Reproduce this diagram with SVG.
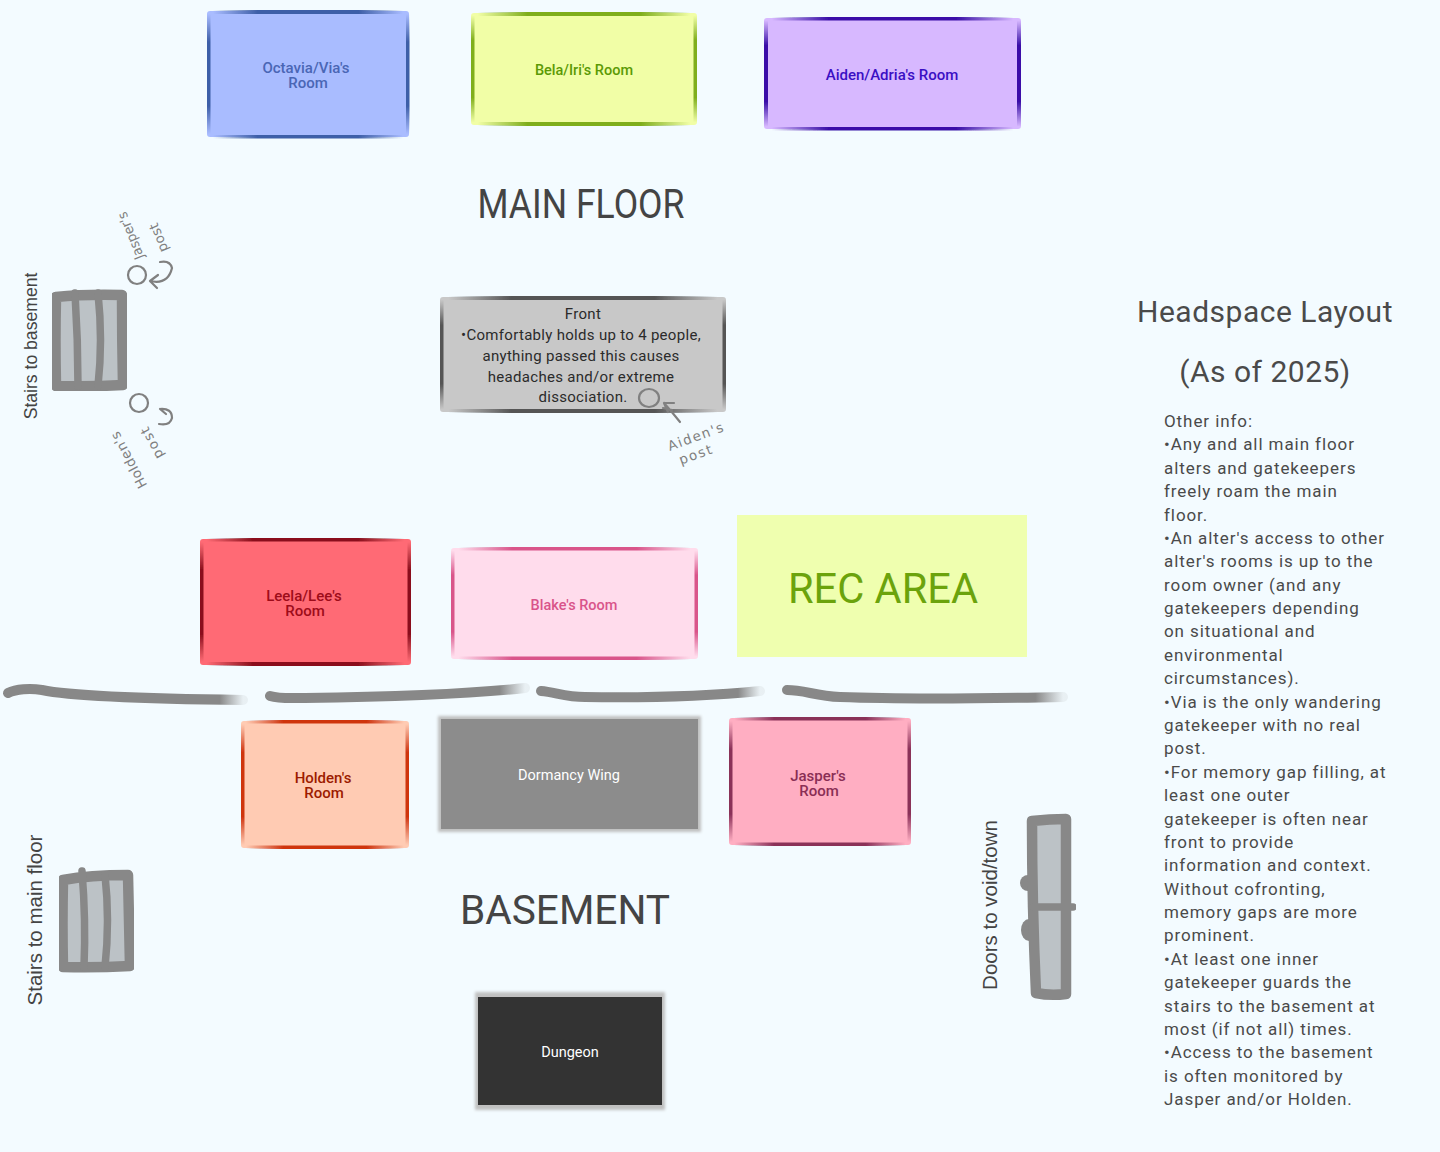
<svg xmlns="http://www.w3.org/2000/svg" width="1440" height="1152" viewBox="0 0 1440 1152">
<style>
text{font-family:"Roboto","Liberation Sans",sans-serif;text-anchor:middle}
.room{font-size:15px;font-weight:500}
.tight{font-size:14.500px}
.plain{font-size:14.5px;fill:#fff}
.front{font-size:15px;fill:#2b2b2b;letter-spacing:.3px}
.head{font-size:41px;fill:#444}
.title{font-size:30px;fill:#4a4a4a;letter-spacing:.5px}
.info{font-size:17px;fill:#4a4a4a;text-anchor:start;letter-spacing:.92px}
.side{font-family:"Liberation Sans",sans-serif;font-size:17.600px;fill:#444}
.long{font-size:20.500px}
.hand{font-family:"DejaVu Sans",sans-serif;font-size:13.500px;fill:#808080}
.ink{fill:none;stroke:#808080;stroke-width:2.200;stroke-linecap:round;stroke-linejoin:round}
.frame{fill:#bcc2c6;stroke:#888;stroke-width:10.500;stroke-linejoin:round}
.bar{fill:none;stroke:#888;stroke-width:7.500;stroke-linecap:round}
.knob{fill:#888}
.sep{fill:none;stroke:url(#fadeEnd);stroke-width:10;stroke-linecap:round}
</style>
<defs>
<linearGradient id="hBlue"><stop offset=".03" stop-color="#3e5fa8" stop-opacity="0"/><stop offset=".25" stop-color="#3e5fa8"/><stop offset=".75" stop-color="#3e5fa8"/><stop offset=".97" stop-color="#3e5fa8" stop-opacity="0"/></linearGradient>
<linearGradient id="vBlue" href="#hBlue" x2="0" y2="1"/>
<linearGradient id="hGreen"><stop offset=".03" stop-color="#7fae1c" stop-opacity="0"/><stop offset=".25" stop-color="#7fae1c"/><stop offset=".75" stop-color="#7fae1c"/><stop offset=".97" stop-color="#7fae1c" stop-opacity="0"/></linearGradient>
<linearGradient id="vGreen" href="#hGreen" x2="0" y2="1"/>
<linearGradient id="hPurple"><stop offset=".03" stop-color="#3a10a8" stop-opacity="0"/><stop offset=".25" stop-color="#3a10a8"/><stop offset=".75" stop-color="#3a10a8"/><stop offset=".97" stop-color="#3a10a8" stop-opacity="0"/></linearGradient>
<linearGradient id="vPurple" href="#hPurple" x2="0" y2="1"/>
<linearGradient id="hGrey"><stop offset=".03" stop-color="#555" stop-opacity="0"/><stop offset=".25" stop-color="#555"/><stop offset=".75" stop-color="#555"/><stop offset=".97" stop-color="#555" stop-opacity="0"/></linearGradient>
<linearGradient id="vGrey" href="#hGrey" x2="0" y2="1"/>
<linearGradient id="hRed"><stop offset=".03" stop-color="#8a0f1c" stop-opacity="0"/><stop offset=".25" stop-color="#8a0f1c"/><stop offset=".75" stop-color="#8a0f1c"/><stop offset=".97" stop-color="#8a0f1c" stop-opacity="0"/></linearGradient>
<linearGradient id="vRed" href="#hRed" x2="0" y2="1"/>
<linearGradient id="hPink"><stop offset=".03" stop-color="#d9548a" stop-opacity="0"/><stop offset=".25" stop-color="#d9548a"/><stop offset=".75" stop-color="#d9548a"/><stop offset=".97" stop-color="#d9548a" stop-opacity="0"/></linearGradient>
<linearGradient id="vPink" href="#hPink" x2="0" y2="1"/>
<linearGradient id="hOrange"><stop offset=".03" stop-color="#cf3510" stop-opacity="0"/><stop offset=".25" stop-color="#cf3510"/><stop offset=".75" stop-color="#cf3510"/><stop offset=".97" stop-color="#cf3510" stop-opacity="0"/></linearGradient>
<linearGradient id="vOrange" href="#hOrange" x2="0" y2="1"/>
<linearGradient id="hPlum"><stop offset=".03" stop-color="#8a3058" stop-opacity="0"/><stop offset=".25" stop-color="#8a3058"/><stop offset=".75" stop-color="#8a3058"/><stop offset=".97" stop-color="#8a3058" stop-opacity="0"/></linearGradient>
<linearGradient id="vPlum" href="#hPlum" x2="0" y2="1"/>
<linearGradient id="fadeEnd"><stop offset="0" stop-color="#888"/><stop offset=".9" stop-color="#888"/><stop offset="1" stop-color="#888" stop-opacity=".1"/></linearGradient>
<filter id="soft" x="-5%" y="-5%" width="110%" height="110%"><feGaussianBlur stdDeviation=".6"/></filter>
<filter id="glow" x="-5%" y="-8%" width="110%" height="116%"><feGaussianBlur stdDeviation="1.500"/></filter>
</defs>
<rect width="1440" height="1152" fill="#f3fbff"/>

<g id="octavia-room"><g filter="url(#soft)"><rect x="207" y="11" width="202" height="126" rx="3" fill="#a9bcff"/><rect fill="url(#hBlue)" x="207" y="10" width="202" height="4"/><rect fill="url(#hBlue)" x="207" y="135" width="202" height="3.500"/><rect fill="url(#vBlue)" x="207" y="10" width="3.500" height="128"/><rect fill="url(#vBlue)" x="406" y="10" width="3.500" height="128"/></g><text class="room" fill="#4a66b5"><tspan x="306" y="73">Octavia/Via's</tspan><tspan x="308" y="88">Room</tspan></text></g>
<g id="bela-room"><g filter="url(#soft)"><rect x="471" y="13" width="226" height="112" rx="3" fill="#f1fea6"/><rect fill="url(#hGreen)" x="471" y="12" width="226" height="4"/><rect fill="url(#hGreen)" x="471" y="122" width="226" height="4"/><rect fill="url(#vGreen)" x="471" y="12" width="3.500" height="114"/><rect fill="url(#vGreen)" x="693.500" y="12" width="3.500" height="114"/></g><text class="room tight" fill="#5b9a05" x="584" y="75">Bela/Iri's Room</text></g>
<g id="aiden-room"><g filter="url(#soft)"><rect x="764" y="18" width="257" height="111" rx="3" fill="#d7b8ff"/><rect fill="url(#hPurple)" x="764" y="17" width="257" height="3.500"/><rect fill="url(#hPurple)" x="764" y="127" width="257" height="3.500"/><rect fill="url(#vPurple)" x="764" y="17" width="4" height="113"/><rect fill="url(#vPurple)" x="1017" y="17" width="4" height="113"/></g><text class="room" fill="#3a0fc4" x="892" y="80">Aiden/Adria's Room</text></g>

<text id="main-floor-title" class="head" x="581" y="218" textLength="207" lengthAdjust="spacingAndGlyphs">MAIN FLOOR</text>

<g id="front"><g filter="url(#soft)"><rect x="440" y="297" width="286" height="115" rx="3" fill="#c8c8c8"/><rect fill="url(#hGrey)" x="440" y="296" width="286" height="4"/><rect fill="url(#hGrey)" x="440" y="409" width="286" height="4"/><rect fill="url(#vGrey)" x="440" y="296" width="3.500" height="117"/><rect fill="url(#vGrey)" x="722.500" y="296" width="3.500" height="117"/></g><text class="front"><tspan x="583" y="319">Front</tspan><tspan x="581" y="340">•Comfortably holds up to 4 people,</tspan><tspan x="581" y="361">anything passed this causes</tspan><tspan x="581" y="382">headaches and/or extreme</tspan><tspan x="583" y="402">dissociation.</tspan></text></g>

<g id="aiden-post"><ellipse class="ink" cx="649" cy="398" rx="10" ry="9"/><path class="ink" d="M680 422Q672 412 664 403M664 403L674 403M664 403L668 412M672 410L663 408"/><text class="hand" transform="translate(697 441) rotate(-20)" textLength="58">Aiden's</text><text class="hand" transform="translate(697 459) rotate(-20)" textLength="34">post</text></g>

<g id="stairs-to-basement"><g filter="url(#soft)"><path class="frame" d="M56 297Q85 294 122 295Q122 340 123 385Q90 387 56 386Q55 340 56 297Z"/><path class="bar" d="M75 293Q78 340 78 386M98 293Q103 340 98 386"/></g><text class="side" transform="translate(37 346) rotate(-90)">Stairs to basement</text></g>
<g id="jasper-post"><circle class="ink" cx="137" cy="275" r="9"/><path class="ink" d="M150 281Q168 285 172 268Q170 260 160 262M150 281L158 275M150 281L157 288"/><text class="hand" transform="translate(135 234) rotate(-112)" textLength="50" lengthAdjust="spacingAndGlyphs">Jasper's</text><text class="hand" transform="translate(163 236) rotate(-112)" textLength="30">post</text></g>
<g id="holden-post"><circle class="ink" cx="139" cy="403" r="9"/><path class="ink" d="M160 409Q172 408 172 418Q170 426 159 424M160 409L166 414"/><text class="hand" transform="translate(133 458) rotate(-118)" textLength="62">Holden's</text><text class="hand" transform="translate(156 441) rotate(-118)" textLength="34">post</text></g>

<g id="leela-room"><g filter="url(#soft)"><rect x="200" y="539" width="211" height="126" rx="3" fill="#ff6b75"/><rect fill="url(#hRed)" x="200" y="538" width="211" height="3.500"/><rect fill="url(#hRed)" x="200" y="662" width="211" height="4"/><rect fill="url(#vRed)" x="200" y="538" width="3.500" height="128"/><rect fill="url(#vRed)" x="407.500" y="538" width="3.500" height="128"/></g><text class="room" fill="#9d0c1a"><tspan x="304" y="601">Leela/Lee's</tspan><tspan x="305" y="616">Room</tspan></text></g>
<g id="blake-room"><g filter="url(#soft)"><rect x="451" y="548" width="247" height="111" rx="3" fill="#ffdcec"/><rect fill="url(#hPink)" x="451" y="547" width="247" height="3.500"/><rect fill="url(#hPink)" x="451" y="656.500" width="247" height="3.500"/><rect fill="url(#vPink)" x="451" y="547" width="3.500" height="113"/><rect fill="url(#vPink)" x="694.500" y="547" width="3.500" height="113"/></g><text class="room tight" fill="#d9548a" x="574" y="610">Blake's Room</text></g>
<g id="rec-area"><rect x="737" y="515" width="290" height="142" fill="#efffaf"/><text x="883" y="603" font-size="42" fill="#6ba30c" textLength="190" lengthAdjust="spacingAndGlyphs">REC AREA</text></g>

<g id="dividers"><path class="sep" d="M8 693C16 689 30 688 42 690C70 696 160 699 243 700"/><path class="sep" d="M270 696C280 699 290 698 305 698C380 697 460 695 525 688"/><path class="sep" d="M541 691C555 692 565 697 585 697C650 698 710 696 760 691"/><path class="sep" d="M787 690C805 690 815 696 840 697C920 700 1000 698 1063 697"/></g>

<g id="holden-room"><g filter="url(#soft)"><rect x="241" y="721" width="168" height="127" rx="3" fill="#ffcbb3"/><rect fill="url(#hOrange)" x="241" y="720" width="168" height="3.500"/><rect fill="url(#hOrange)" x="241" y="845.500" width="168" height="3.500"/><rect fill="url(#vOrange)" x="241" y="720" width="3.500" height="129"/><rect fill="url(#vOrange)" x="405.500" y="720" width="3.500" height="129"/></g><text class="room" fill="#9c1b00"><tspan x="323" y="783">Holden's</tspan><tspan x="324" y="798">Room</tspan></text></g>
<g id="dormancy-wing"><rect x="438" y="716" width="263" height="116" fill="#c0c0c0" filter="url(#glow)"/><rect x="441" y="719" width="257" height="110" fill="#8c8c8c"/><text class="plain" x="569" y="780">Dormancy Wing</text></g>
<g id="jasper-room"><g filter="url(#soft)"><rect x="729" y="718" width="182" height="127" rx="3" fill="#ffaec2"/><rect fill="url(#hPlum)" x="729" y="717" width="182" height="3.500"/><rect fill="url(#hPlum)" x="729" y="842.500" width="182" height="3.500"/><rect fill="url(#vPlum)" x="729" y="717" width="3.500" height="129"/><rect fill="url(#vPlum)" x="907.500" y="717" width="3.500" height="129"/></g><text class="room" fill="#8a2e55"><tspan x="818" y="781">Jasper's</tspan><tspan x="819" y="796">Room</tspan></text></g>

<g id="stairs-to-main-floor"><g filter="url(#soft)"><path class="frame" d="M63 880Q90 875 128 875Q129 920 130 966Q95 968 63 967Q62 925 63 880Z"/><path class="bar" d="M82 871Q86 920 84 967M105 875Q110 920 105 967"/></g><text class="side long" transform="translate(42 920) rotate(-90)">Stairs to main floor</text></g>
<text id="basement-title" class="head" x="565" y="924" textLength="210" lengthAdjust="spacingAndGlyphs">BASEMENT</text>
<g id="doors-to-void"><g filter="url(#soft)"><ellipse class="knob" cx="1028" cy="883" rx="8" ry="8"/><ellipse class="knob" cx="1029" cy="930" rx="8" ry="11"/><path class="frame" d="M1032 821Q1050 819 1066 819Q1066 905 1066 994Q1050 996 1036 993Q1032 905 1032 821Z"/><path class="bar" d="M1034 907L1073 907"/></g><text class="side long" transform="translate(997 905) rotate(-90)">Doors to void/town</text></g>
<g id="dungeon"><rect x="475" y="992" width="190" height="118" fill="#c0c0c0" filter="url(#glow)"/><rect x="478" y="997" width="184" height="108" fill="#333"/><text class="plain" x="570" y="1057">Dungeon</text></g>

<g id="info"><text class="title"><tspan x="1265" y="322">Headspace Layout</tspan><tspan x="1265" y="382">(As of 2025)</tspan></text>
<text class="info"><tspan x="1164" y="427">Other info:</tspan><tspan x="1164" y="450.400">•Any and all main floor</tspan><tspan x="1164" y="473.800">alters and gatekeepers</tspan><tspan x="1164" y="497.100">freely roam the main</tspan><tspan x="1164" y="520.500">floor.</tspan><tspan x="1164" y="543.900">•An alter's access to other</tspan><tspan x="1164" y="567.300">alter's rooms is up to the</tspan><tspan x="1164" y="590.700">room owner (and any</tspan><tspan x="1164" y="614">gatekeepers depending</tspan><tspan x="1164" y="637.400">on situational and</tspan><tspan x="1164" y="660.800">environmental</tspan><tspan x="1164" y="684.200">circumstances).</tspan><tspan x="1164" y="707.600">•Via is the only wandering</tspan><tspan x="1164" y="730.900">gatekeeper with no real</tspan><tspan x="1164" y="754.300">post.</tspan><tspan x="1164" y="777.700">•For memory gap filling, at</tspan><tspan x="1164" y="801.100">least one outer</tspan><tspan x="1164" y="824.500">gatekeeper is often near</tspan><tspan x="1164" y="847.800">front to provide</tspan><tspan x="1164" y="871.200">information and context.</tspan><tspan x="1164" y="894.600">Without cofronting,</tspan><tspan x="1164" y="918">memory gaps are more</tspan><tspan x="1164" y="941.400">prominent.</tspan><tspan x="1164" y="964.700">•At least one inner</tspan><tspan x="1164" y="988.100">gatekeeper guards the</tspan><tspan x="1164" y="1011.500">stairs to the basement at</tspan><tspan x="1164" y="1034.900">most (if not all) times.</tspan><tspan x="1164" y="1058.300">•Access to the basement</tspan><tspan x="1164" y="1081.600">is often monitored by</tspan><tspan x="1164" y="1105">Jasper and/or Holden.</tspan></text></g>
</svg>
